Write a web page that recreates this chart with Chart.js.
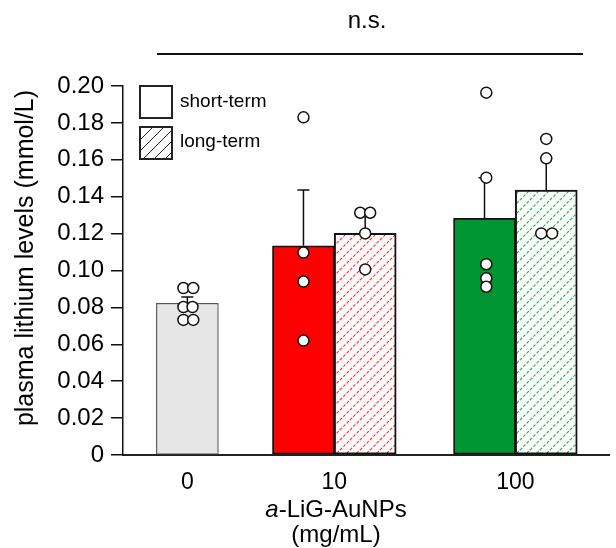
<!DOCTYPE html>
<html>
<head>
<meta charset="utf-8">
<script src="https://cdn.jsdelivr.net/npm/chart.js@4.4.1/dist/chart.umd.min.js"></script>
<style>
  body { margin: 0; background: #fff; }
  canvas { display: block; }
</style>
</head>
<body>
<canvas id="myChart" width="616" height="548"></canvas>
<script>
// Data
var groupLabels = ['0', '10', '100'];
var shortMean = [0.0822, 0.1134, 0.1283];
var shortSD = [0.0034, 0.0302, 0.0220];
var longMean = [null, 0.1201, 0.1436];
var longSD = [null, 0.0110, 0.0174];
var shortPoints = [
    [0.0905, 0.0905, 0.0802, 0.0802, 0.0732, 0.0732],
    [0.183, 0.1097, 0.094, 0.062],
    [0.1964, 0.1503, 0.1034, 0.0958, 0.0912]
];
var longPoints = [
    null,
    [0.1313, 0.1313, 0.1201, 0.1006],
    [0.1713, 0.1608, 0.1201, 0.1201]
];
var yTicks = [0, 0.02, 0.04, 0.06, 0.08, 0.10, 0.12, 0.14, 0.16, 0.18, 0.20];

// Layout (x units: group 0 at 0, group 10 at 1)
var groupPos = [0, 1, 2.232];
var pairOffset = 0.21;
var shortJitter = [[-0.027, 0.04, -0.027, 0.035, -0.027, 0.04], [0, 0, 0, 0], [0.012, 0.012, 0.012, 0.012, 0.012]];
var longJitter = [null, [-0.034, 0.034, 0, 0], [0, 0, -0.034, 0.04]];

var shortColors = ['#e6e6e6', '#ff0000', '#009530'];
var shortBorders = ['#555555', '#111111', '#111111'];
var hatchColors = [null, '#ff2a2a', '#1faa48'];

var FONT = "'Liberation Sans', Arial, sans-serif";
Chart.defaults.font.family = FONT;
Chart.defaults.color = '#000';

var chart = document.getElementById('myChart');
var ctx = chart.getContext('2d');

function hatch(color){
    var c = document.createElement('canvas');
    c.width = 10; c.height = 10;
    var g = c.getContext('2d');
    g.fillStyle = '#fff';
    g.fillRect(0, 0, 10, 10);
    g.strokeStyle = color;
    g.lineWidth = 1.1;
    g.setLineDash([3, 1.7]);
    g.beginPath();
    g.moveTo(0, 10); g.lineTo(10, 0);
    g.moveTo(-5, 5); g.lineTo(5, -5);
    g.moveTo(5, 15); g.lineTo(15, 5);
    g.stroke();
    return ctx.createPattern(c, 'repeat');
}

function isPair(i){ return longMean[i] != null; }

var shortData = groupLabels.map(function(l, i){
    return {x: groupPos[i] - (isPair(i) ? pairOffset : 0), y: shortMean[i]};
});
var longData = [], longFill = [];
groupLabels.forEach(function(l, i){
    if(isPair(i)){
        longData.push({x: groupPos[i] + pairOffset, y: longMean[i]});
        longFill.push(hatch(hatchColors[i]));
    }
});

var dots = [];
groupLabels.forEach(function(l, i){
    var sx = shortData[i].x;
    shortPoints[i].forEach(function(v, k){ dots.push({x: sx + shortJitter[i][k], y: v}); });
    if(isPair(i)){
        longPoints[i].forEach(function(v, k){ dots.push({x: groupPos[i] + pairOffset + longJitter[i][k], y: v}); });
    }
});

// error bars drawn right after each bar dataset, under the dots
var errorBars = {
    id: 'errorBars',
    afterDatasetDraw: function(c, args){
        var sds = args.index === 1 ? shortSD : (args.index === 2 ? longSD.filter(function(v){ return v != null; }) : null);
        var means = args.index === 1 ? shortMean : (args.index === 2 ? longMean.filter(function(v){ return v != null; }) : null);
        if(!sds) return;
        var y = c.scales.y;
        var g = c.ctx;
        g.save();
        g.strokeStyle = '#111';
        g.lineWidth = 1.5;
        args.meta.data.forEach(function(el, j){
            var top = y.getPixelForValue(means[j] + sds[j]);
            g.beginPath();
            g.moveTo(el.x, el.y);
            g.lineTo(el.x, top);
            g.moveTo(el.x - 6, top);
            g.lineTo(el.x + 6, top);
            g.stroke();
        });
        g.restore();
    }
};

var decor = {
    id: 'decor',
    afterDraw: function(c){
        var g = c.ctx;
        g.save();
        // n.s. bracket
        g.fillStyle = '#000';
        g.textAlign = 'center';
        g.textBaseline = 'middle';
        g.font = '24px ' + FONT;
        g.fillText('n.s.', 367, 21);
        g.strokeStyle = '#111';
        g.lineWidth = 2;
        g.beginPath();
        g.moveTo(157, 54); g.lineTo(583, 54);
        g.stroke();

        // y axis title
        g.save();
        g.translate(26, 258);
        g.rotate(-Math.PI / 2);
        g.font = '25px ' + FONT;
        g.fillText('plasma lithium levels (mmol/L)', 0, 0);
        g.restore();

        // legend
        g.lineWidth = 2;
        g.strokeStyle = '#222';
        g.fillStyle = '#fff';
        g.fillRect(140, 86, 32, 32);
        g.strokeRect(140, 86, 32, 32);
        g.save();
        g.beginPath();
        g.rect(140, 127, 32, 32);
        g.fillStyle = '#fff';
        g.fill();
        g.clip();
        g.lineWidth = 1;
        g.strokeStyle = '#222';
        for(var d = -30; d < 40; d += 11){
            g.beginPath();
            g.moveTo(140 + d, 159);
            g.lineTo(172 + d, 127);
            g.stroke();
        }
        g.restore();
        g.lineWidth = 2;
        g.strokeStyle = '#222';
        g.strokeRect(140, 127, 32, 32);
        g.fillStyle = '#000';
        g.textAlign = 'left';
        g.font = '19px ' + FONT;
        g.fillText('short-term', 180, 102);
        g.fillText('long-term', 180, 142);

        // x axis title with italic a
        g.font = '24px ' + FONT;
        var rest = '-LiG-AuNPs';
        var restW = g.measureText(rest).width;
        g.font = 'italic 24px ' + FONT;
        var aW = g.measureText('a').width;
        var x0 = 336 - (aW + restW) / 2;
        g.fillText('a', x0, 510);
        g.font = '24px ' + FONT;
        g.fillText(rest, x0 + aW, 510);
        g.textAlign = 'center';
        g.fillText('(mg/mL)', 336, 535);
        g.restore();
    }
};

var myChart = new Chart(ctx, {
    type: 'bar',
    data: {
        datasets: [{
            type: 'scatter',
            label: 'points',
            data: dots,
            order: 0,
            pointRadius: 5.5,
            pointBorderWidth: 1.5,
            pointBackgroundColor: '#fff',
            pointBorderColor: '#111'
        }, {
            label: 'short-term',
            data: shortData,
            order: 2,
            grouped: false,
            barThickness: 62,
            backgroundColor: shortColors,
            borderColor: shortBorders,
            borderWidth: [1.2, 1.8, 1.8],
            borderSkipped: false
        }, {
            label: 'long-term',
            data: longData,
            order: 1,
            grouped: false,
            barThickness: 62,
            backgroundColor: longFill,
            borderColor: '#111',
            borderWidth: 2,
            borderSkipped: false
        }]
    },
    options: {
        responsive: false,
        animation: false,
        layout: { padding: { top: 86, right: 2, left: 0, bottom: 0 } },
        plugins: { legend: { display: false }, tooltip: { enabled: false } },
        scales: {
            x: {
                type: 'linear',
                min: -0.438,
                max: 2.869,
                offset: false,
                grid: { display: false, drawTicks: false },
                border: { color: '#222', width: 2 },
                afterBuildTicks: function(s){ s.ticks = groupPos.map(function(v){ return {value: v}; }); },
                afterFit: function(s){ s.height = 93; },
                ticks: {
                    padding: 14,
                    font: { size: 23 },
                    color: '#000',
                    callback: function(v, i){ return groupLabels[i]; }
                }
            },
            y: {
                min: 0,
                max: 0.2,
                grid: { drawOnChartArea: false, tickLength: 12, color: '#111', lineWidth: 1.5 },
                border: { color: '#111', width: 1.5 },
                afterBuildTicks: function(s){ s.ticks = yTicks.map(function(v){ return {value: v}; }); },
                afterFit: function(s){ s.width = 123; },
                ticks: {
                    padding: 7,
                    font: { size: 24 },
                    color: '#000',
                    callback: function(v){ return v === 0 ? '0' : v.toFixed(2); }
                }
            }
        }
    },
    plugins: [errorBars, decor]
});
</script>
</body>
</html>
